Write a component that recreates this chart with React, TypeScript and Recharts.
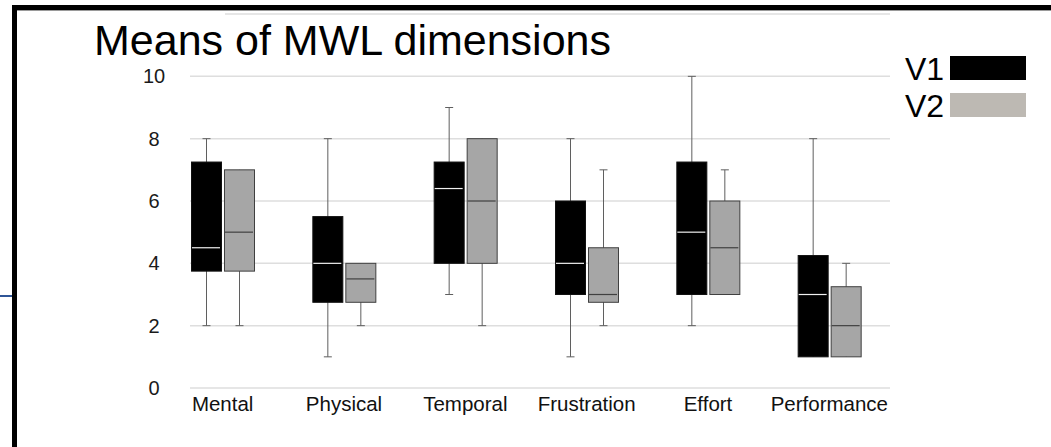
import React from "react";
import { Bar, BarChart, CartesianGrid, XAxis, YAxis } from "recharts";

const categories = ["Mental", "Physical", "Temporal", "Frustration", "Effort", "Performance"];

// V1 five-number summaries
const v1Min = [2, 1, 3, 1, 2, 1];
const v1Q1 = [3.75, 2.75, 4, 3, 3, 1];
const v1Median = [4.5, 4, 6.4, 4, 5, 3];
const v1Q3 = [7.25, 5.5, 7.25, 6, 7.25, 4.25];
const v1Max = [8, 8, 9, 8, 10, 8];

// V2 five-number summaries
const v2Min = [2, 2, 2, 2, 3, 1];
const v2Q1 = [3.75, 2.75, 4, 2.75, 3, 1];
const v2Median = [5, 3.5, 6, 3, 4.5, 2];
const v2Q3 = [7, 4, 8, 4.5, 6, 3.25];
const v2Max = [7, 4, 8, 7, 7, 4];

const yTicks = [0, 2, 4, 6, 8, 10, 12];
const yLabelMax = 10;

const V1_FILL = "#000000";
const V2_FILL = "#a6a6a6";
const V2_LEGEND = "#bdb9b3";
const WHISKER = "#5f5f5f";
const FONT = "'Liberation Sans', Arial, sans-serif";

const data = categories.map((name, i) => ({
  name,
  v1: [v1Min[i], v1Max[i]],
  v1Stats: { min: v1Min[i], q1: v1Q1[i], median: v1Median[i], q3: v1Q3[i], max: v1Max[i] },
  v2: [v2Min[i], v2Max[i]],
  v2Stats: { min: v2Min[i], q1: v2Q1[i], median: v2Median[i], q3: v2Q3[i], max: v2Max[i] },
}));

const BoxShape = (props: any) => {
  const { x, y, width, height, payload, statsKey, fill, stroke, medianColor } = props;
  const s = payload[statsKey];
  const top = Math.min(y, y + height);
  const h = Math.abs(height);
  const k = s.max > s.min ? h / (s.max - s.min) : 0;
  const yOf = (v: number) => top + (s.max - v) * k;
  const cx = x + width / 2;
  const cap = 4;
  return (
    <g>
      <line x1={cx} x2={cx} y1={yOf(s.max)} y2={yOf(s.min)} stroke={WHISKER} strokeWidth={1} />
      {s.max > s.q3 && (
        <line x1={cx - cap} x2={cx + cap} y1={yOf(s.max)} y2={yOf(s.max)} stroke={WHISKER} strokeWidth={1} />
      )}
      {s.min < s.q1 && (
        <line x1={cx - cap} x2={cx + cap} y1={yOf(s.min)} y2={yOf(s.min)} stroke={WHISKER} strokeWidth={1} />
      )}
      <rect
        x={x + 0.5}
        y={yOf(s.q3)}
        width={width - 1}
        height={yOf(s.q1) - yOf(s.q3)}
        fill={fill}
        stroke={stroke}
        strokeWidth={1}
      />
      <line
        x1={x + 1}
        x2={x + width - 2}
        y1={yOf(s.median)}
        y2={yOf(s.median)}
        stroke={medianColor}
        strokeWidth={1.2}
      />
    </g>
  );
};

const YTick = (props: any) => {
  const { x, y, payload } = props;
  if (payload.value > yLabelMax) return null;
  return (
    <text x={x} y={y} dy="0.355em" textAnchor="middle" fontSize={20} fontFamily={FONT} fill="#1a1a1a">
      {payload.value}
    </text>
  );
};

const XTick = (props: any) => {
  const { x, y, payload } = props;
  return (
    <text x={x} y={y} dy="0.71em" textAnchor="middle" fontSize={20.5} fontFamily={FONT} fill="#111111">
      {payload.value}
    </text>
  );
};

const GridLine = (props: any) => {
  const { x1, x2, y1, y2 } = props;
  const start = y1 < 30 ? x1 + 63 : x1 + 28;
  return <line x1={start} x2={x2} y1={y1} y2={y2} stroke="#dedede" strokeWidth={1.5} />;
};

export default function App() {
  return (
    <div
      style={{
        position: "absolute",
        left: 0,
        top: 0,
        width: 1051,
        height: 447,
        background: "#ffffff",
        overflow: "hidden",
        fontFamily: FONT,
      }}
    >
      {/* slide frame */}
      <div style={{ position: "absolute", left: 12, top: 5, width: 1039, height: 5, background: "#000" }} />
      <div style={{ position: "absolute", left: 16, top: 10, width: 1035, height: 1, background: "#9a9a9a" }} />
      <div style={{ position: "absolute", left: 12, top: 5, width: 4.5, height: 442, background: "#000" }} />
      <div style={{ position: "absolute", left: 0, top: 294.5, width: 12, height: 2, background: "#2f5597" }} />

      <div style={{ position: "absolute", left: 0, top: 0 }}>
        <BarChart
          width={1051}
          height={447}
          data={data}
          margin={{ top: 14, right: 161, bottom: 29, left: 102 }}
          barSize={31}
          barGap={2}
        >
          <CartesianGrid vertical={false} horizontal={GridLine} />
          <XAxis
            dataKey="name"
            axisLine={false}
            tickLine={false}
            interval={0}
            height={30}
            tick={<XTick />}
          />
          <YAxis
            domain={[0, 12]}
            ticks={yTicks}
            axisLine={false}
            tickLine={false}
            interval={0}
            width={60}
            tick={<YTick />}
          />
          <Bar
            dataKey="v1"
            isAnimationActive={false}
            shape={(p: any) => (
              <BoxShape {...p} statsKey="v1Stats" fill={V1_FILL} stroke="#111111" medianColor="#f0f0f0" />
            )}
          />
          <Bar
            dataKey="v2"
            isAnimationActive={false}
            shape={(p: any) => (
              <BoxShape {...p} statsKey="v2Stats" fill={V2_FILL} stroke="#404040" medianColor="#404040" />
            )}
          />
        </BarChart>
      </div>

      <div
        style={{
          position: "absolute",
          left: 94,
          top: 19,
          fontSize: 43,
          lineHeight: 1,
          color: "#000",
          whiteSpace: "nowrap",
        }}
      >
        Means of MWL dimensions
      </div>

      {/* legend */}
      <div style={{ position: "absolute", left: 905, top: 53, fontSize: 32, lineHeight: 1, color: "#000" }}>V1</div>
      <div style={{ position: "absolute", left: 950, top: 56, width: 76, height: 24, background: V1_FILL }} />
      <div style={{ position: "absolute", left: 905, top: 90, fontSize: 32, lineHeight: 1, color: "#000" }}>V2</div>
      <div style={{ position: "absolute", left: 950, top: 93, width: 76, height: 24, background: V2_LEGEND }} />
    </div>
  );
}
